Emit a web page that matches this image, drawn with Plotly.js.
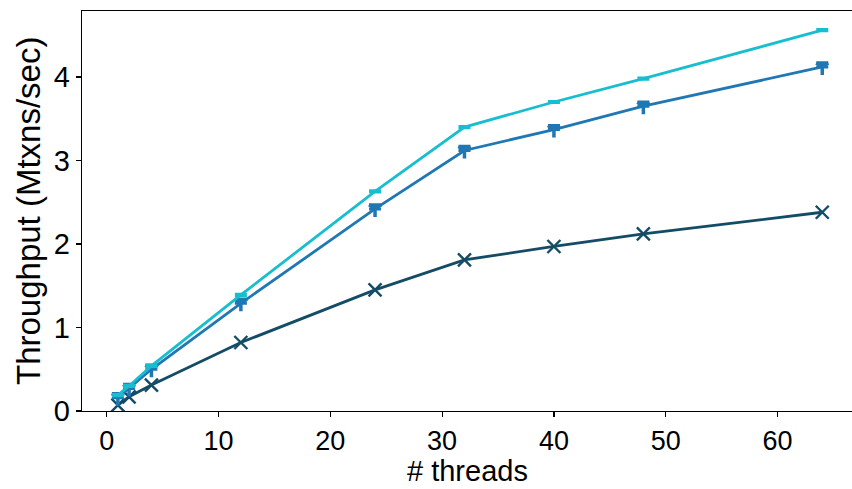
<!DOCTYPE html>
<html>
<head>
<meta charset="utf-8">
<script src="https://cdn.plot.ly/plotly-3.0.1.min.js"></script>
<style>html,body{margin:0;padding:0;background:#fff;}#chart{width:852px;height:489px;}</style>
</head>
<body>
<div id="chart"></div>
<script>
const threads = [1, 2, 4, 12, 24, 32, 40, 48, 64];
const seriesTop = [0.19, 0.30, 0.54, 1.39, 2.63, 3.40, 3.70, 3.98, 4.56];
const seriesTopErr = [0.01, 0.01, 0.01, 0.01, 0.01, 0.01, 0.01, 0.01, 0.01];
const seriesMid = [0.16, 0.27, 0.50, 1.29, 2.42, 3.12, 3.37, 3.65, 4.12];
const seriesMidErrPlus = [0.05, 0.05, 0.05, 0.05, 0.05, 0.05, 0.05, 0.05, 0.05];
const seriesMidErrMinus = [0.0, 0.0, 0.0, 0.0, 0.0, 0.0, 0.0, 0.0, 0.0];
const seriesLow = [0.07, 0.17, 0.31, 0.82, 1.45, 1.81, 1.97, 2.12, 2.38];
const xTicks = [0, 10, 20, 30, 40, 50, 60];
const yTicks = [0, 1, 2, 3, 4];
const xTitle = '# threads';
const yTitle = 'Throughput (Mtxns/sec)';

const cTop = '#17becf', cMid = '#1f77b4', cLow = '#144c66';

const traces = [
  {x: threads, y: seriesLow, type: 'scatter', mode: 'lines+markers',
   line: {color: cLow, width: 2.8},
   marker: {symbol: 'x-thin', size: 13, color: cLow, line: {color: cLow, width: 2.4}}},
  {x: threads, y: seriesMid, type: 'scatter', mode: 'lines+markers',
   line: {color: cMid, width: 2.8},
   error_y: {type: 'data', symmetric: false, array: seriesMidErrPlus, arrayminus: seriesMidErrMinus,
             visible: true, color: cMid, thickness: 3, width: 6},
   marker: {symbol: 'y-down', size: 10, color: cMid, line: {color: cMid, width: 3.5}}},
  {x: threads, y: seriesTop, type: 'scatter', mode: 'lines',
   line: {color: cTop, width: 2.8},
   error_y: {type: 'data', array: seriesTopErr, visible: true, color: cTop, thickness: 2.5, width: 6}}
];

const fam = '"Liberation Sans", Arial, sans-serif';

const layout = {
  width: 852, height: 489,
  margin: {l: 82, r: 0, t: 11, b: 78, pad: 0},
  paper_bgcolor: '#fff', plot_bgcolor: '#fff',
  showlegend: false,
  font: {family: fam, color: '#000'},
  xaxis: {
    range: [-2.21, 66.66], tickvals: xTicks, ticktext: xTicks.map(String),
    showgrid: false, zeroline: false,
    showline: true, linecolor: '#000', linewidth: 1.2, mirror: true,
    ticks: 'outside', ticklen: 5, tickwidth: 1.2, tickcolor: '#000',
    tickfont: {family: fam, size: 27, color: '#000'}
  },
  yaxis: {
    range: [0, 4.79], tickvals: yTicks, ticktext: yTicks.map(String),
    showgrid: false, zeroline: false,
    showline: true, linecolor: '#000', linewidth: 1.2,
    ticks: 'outside', ticklen: 5, tickwidth: 1.2, tickcolor: '#000',
    tickfont: {family: fam, size: 29, color: '#000'}
  },
  annotations: [
    {text: xTitle, xref: 'paper', yref: 'paper', x: 0.5, y: -0.14875,
     xanchor: 'center', yanchor: 'middle', showarrow: false,
     font: {family: fam, size: 29, color: '#000'}},
    {text: yTitle, xref: 'paper', yref: 'paper', x: -0.0701, y: 0.5, textangle: -90,
     xanchor: 'center', yanchor: 'middle', showarrow: false,
     font: {family: fam, size: 33, color: '#000'}}
  ]
};

Plotly.newPlot('chart', traces, layout, {displayModeBar: false, staticPlot: true});
</script>
</body>
</html>
